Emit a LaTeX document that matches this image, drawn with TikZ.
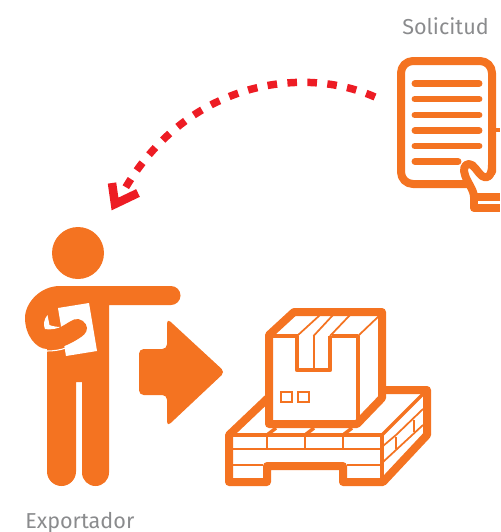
\documentclass[tikz,border=0pt]{standalone}
\usepackage{fontspec}
\setmainfont{Fira Sans}
\definecolor{ingorange}{HTML}{F47321}
\definecolor{ingred}{HTML}{ED1C24}
\definecolor{inggray}{HTML}{8A8B8D}
\tikzset{
  label text/.style={text=inggray,font=\fontsize{16.2}{18}\selectfont,inner sep=0pt,anchor=base west},
  heavy/.style={draw=ingorange,line width=6pt,line join=round,line cap=round},
  medium/.style={draw=ingorange,line width=2.6pt},
  fine/.style={draw=ingorange,line width=1.3pt},
  textline/.style={draw=ingorange,line width=5.2pt,line cap=round},
}
\begin{document}
\begin{tikzpicture}[x=0.75pt,y=-0.75pt]
\useasboundingbox (0,0) rectangle (500,532);
\node[label text] (solicitud) at (402,34) {Solicitud};
\node[label text] (exportador) at (25,528) {Exportador};
% document
\draw[heavy,rounded corners=9] (467,184) -- (401,184) -- (401,61) -- (492,61) -- (492,172);
\foreach \y in {83.5,99,115,130.5,146} \draw[textline] (415,\y) -- (479,\y);
\draw[textline] (415,161.5) -- (458,161.5);
\draw[ingorange,line width=3pt] (496,130) -- (500,130);
% hand
\draw[heavy] (492,165) .. controls (492,176) and (487,180) .. (482,176)
  .. controls (477,172) and (474,164) .. (469,164)
  .. controls (464,164) and (463,170) .. (465,175)
  .. controls (467,182) and (474,190) .. (474,197);
\path[draw=ingorange,line width=6pt,line join=round] (500,196.5) -- (474,196.5) -- (474,208) -- (500,208);
% person
\fill[ingorange] (78,253) circle (26);
\fill[ingorange] (60,286) -- (171,286) arc[start angle=-90,end angle=90,radius=9.5] -- (109,305)
  -- (109,472.5) arc[start angle=0,end angle=180,radius=13.5] -- (82,382) -- (76,382)
  -- (76,471.5) arc[start angle=0,end angle=180,radius=14.5] -- (47,349)
  .. controls (36,349) and (25,335) .. (25,318)
  .. controls (25,303) and (40,286) .. (60,286) -- cycle;
\fill[white] (58,308) -- (89,303) -- (97,351) -- (66,356) -- cycle;
\fill[white] (47.5,315) .. controls (44,319) and (43,325) .. (45,329) .. controls (50,330) and (56,329) .. (61,327)
  .. controls (56,327) and (52,326) .. (49.5,325) -- cycle;
\fill[ingorange] (48,330) .. controls (58,331) and (66,323) .. (74,319.5)
  .. controls (80,317) and (87,323) .. (87,328) .. controls (87,333) and (83,336) .. (78,339)
  .. controls (70,344) and (60,349) .. (47,350) -- cycle;
\draw[white,line width=0.8pt] (47,351) .. controls (54,351) and (60,350) .. (66,348);
% block arrow
\fill[ingorange,rounded corners=3.5] (139,349) -- (167,349) -- (167,318.5) -- (225,372) -- (167,426.5) -- (167,395) -- (139,395) -- cycle;
% pallet
\draw[heavy,fill=white] (229,435) -- (269,397) -- (383,390) -- (427,390) -- (427,435) -- (383,482) -- (343,482) -- (343,466) -- (267,466) -- (267,482) -- (229,482) -- cycle;
\draw[draw=ingorange,line width=3pt] (229,435) -- (382,435);
\draw[draw=ingorange,line width=3pt] (382,435) -- (382,482);
\draw[medium] (382,435) -- (425,392);
\draw[fine] (230,449) -- (381,449);
\draw[fine] (230,465) -- (263,465);
\draw[fine] (347,465) -- (381,465);
\foreach \x in {267,305,343} {
  \draw[fine] (\x,435) -- (\x,449);
  \draw[medium] (\x,435) -- ++(9,-7);
}
\draw[fine] (383,446) -- (396,435) -- (423,409);
\draw[fine] (383,462) -- (423,425);
\draw[fine] (396,437) -- (396,449);
\draw[fine] (414,420) -- (414,432);
% box
\draw[heavy,fill=white] (269,335) -- (294,312) -- (382,312) -- (382,398) -- (357,424) -- (269,424) -- cycle;
\draw[medium] (272,336) -- (298,336);
\draw[medium] (332,336) -- (358,336);
\draw[medium] (358,336) -- (358,422);
\draw[fine] (358,336) -- (380,315);
\draw[draw=ingorange,line width=3.4pt,line join=round] (297,336) -- (297,370) -- (330,370) -- (330,336);
\draw[medium,line width=1.5pt] (313.5,336) -- (313.5,369);
\draw[fine] (272,335) -- (294,315);
\draw[fine] (297,336) -- (320,315);
\draw[fine] (313.5,336) -- (333,315);
\draw[fine] (330,336) -- (350,315);
\draw[fine] (281,392) rectangle (292,402);
\draw[fine] (298,392) rectangle (309,402);
% red dashed arrow
\coordinate (arcstart) at (375,97);
\coordinate (arcend) at (123,192);
\coordinate (tipA) at (112,183);
\coordinate (tipB) at (115,204);
\coordinate (tipC) at (138,193);
\draw[ingred,line width=5.6pt,dash pattern=on 7.2pt off 7.8pt] (arcstart) .. controls (300,64) and (185,83) .. (arcend);
\draw[ingred,line width=6.4pt,line join=miter] (tipA) -- (tipB) -- (tipC);
\end{tikzpicture}
\end{document}
